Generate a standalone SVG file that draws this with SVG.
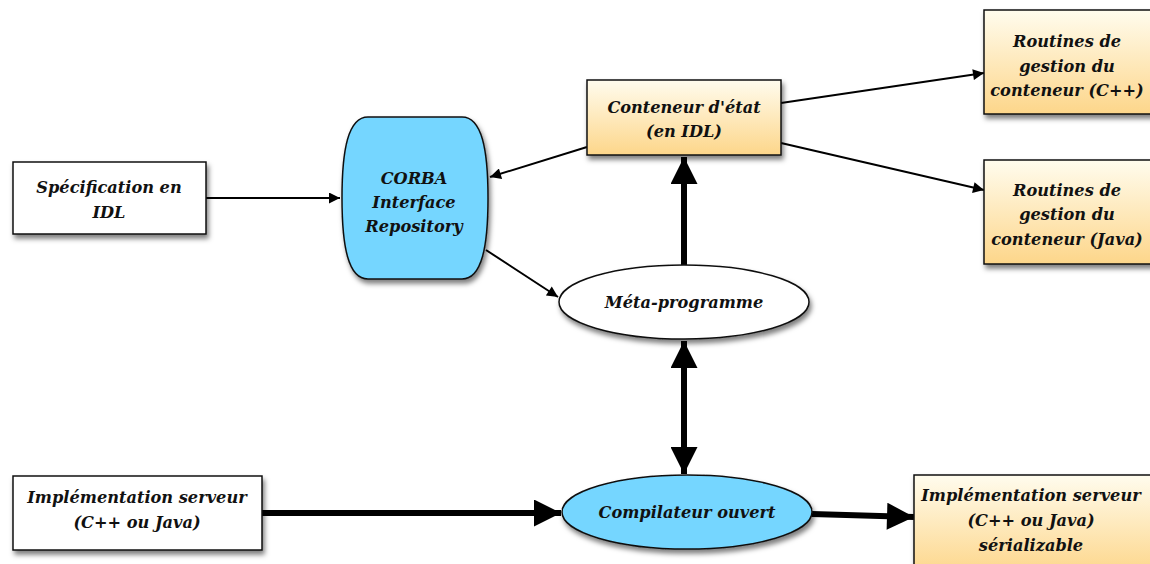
<svg xmlns="http://www.w3.org/2000/svg" width="1150" height="564" viewBox="0 0 1150 564">
<style>
.box{stroke:#111;stroke-width:1.5}
.t{font-family:"DejaVu Serif","Liberation Serif",serif;font-style:italic;font-weight:bold;font-size:16.2px;fill:#111;text-anchor:middle}
.thin{stroke:#000;stroke-width:2;fill:none}
.thick{stroke:#000;stroke-width:6;fill:none}
</style>
<defs>
<linearGradient id="og" x1="0" y1="0" x2="0" y2="1">
<stop offset="0" stop-color="#fffcee"/>
<stop offset="1" stop-color="#fdd68a"/>
</linearGradient>
<filter id="sh" x="-20%" y="-20%" width="150%" height="150%">
<feDropShadow dx="2" dy="4" stdDeviation="2.5" flood-color="#000" flood-opacity="0.5"/>
</filter>
<marker id="ah" viewBox="0 0 10 10" refX="10" refY="5" markerWidth="12" markerHeight="11" markerUnits="userSpaceOnUse" orient="auto">
<path d="M0,0 L10,5 L0,10 Z" fill="#000"/>
</marker>
<marker id="ahb" viewBox="0 0 10 10" refX="10" refY="5" markerWidth="5" markerHeight="4.5" orient="auto-start-reverse">
<path d="M0,0 L10,5 L0,10 Z" fill="#000"/>
</marker>
</defs>
<g id="connectors">
<line class="thin" x1="206" y1="198" x2="340" y2="198" marker-end="url(#ah)"/>
<line class="thin" x1="587" y1="147" x2="490" y2="177" marker-end="url(#ah)"/>
<line class="thin" x1="486" y1="250" x2="558" y2="297" marker-end="url(#ah)"/>
<line class="thin" x1="781" y1="103" x2="984" y2="73" marker-end="url(#ah)"/>
<line class="thin" x1="781" y1="143" x2="984" y2="190" marker-end="url(#ah)"/>
<line class="thick" x1="684" y1="265" x2="684" y2="157" marker-end="url(#ahb)"/>
<line class="thick" x1="684" y1="341" x2="684" y2="474" marker-end="url(#ahb)" marker-start="url(#ahb)"/>
<line class="thick" x1="262" y1="513" x2="561" y2="513" marker-end="url(#ahb)"/>
<line class="thick" x1="812" y1="514" x2="914" y2="517" marker-end="url(#ahb)"/>
</g>
<g id="spec">
<rect class="box" x="13" y="162" width="193" height="72" fill="#fff" filter="url(#sh)"/>
<text class="t" x="109" y="193">Spécification en</text>
<text class="t" x="109" y="218">IDL</text>
</g>
<g id="corba">
<path class="box" d="M368,117 L462,117 C482,117 488,150 488,198 C488,246 482,279 462,279 L368,279 C348,279 342,246 342,198 C342,150 348,117 368,117 Z" fill="#75d6ff" filter="url(#sh)"/>
<text class="t" x="414" y="184">CORBA</text>
<text class="t" x="414" y="208">Interface</text>
<text class="t" x="414" y="232">Repository</text>
</g>
<g id="conteneur">
<rect class="box" x="587" y="80" width="194" height="75" fill="url(#og)" filter="url(#sh)"/>
<text class="t" x="684" y="113">Conteneur d'état</text>
<text class="t" x="684" y="137">(en IDL)</text>
</g>
<g id="routines-cpp">
<rect class="box" x="984" y="10" width="170" height="104" fill="url(#og)" filter="url(#sh)"/>
<text class="t" x="1067" y="47">Routines de</text>
<text class="t" x="1067" y="72">gestion du</text>
<text class="t" x="1067" y="96">conteneur (C++)</text>
</g>
<g id="routines-java">
<rect class="box" x="984" y="160" width="170" height="104" fill="url(#og)" filter="url(#sh)"/>
<text class="t" x="1067" y="196">Routines de</text>
<text class="t" x="1067" y="220">gestion du</text>
<text class="t" x="1067" y="245">conteneur (Java)</text>
</g>
<g id="meta">
<ellipse class="box" cx="684" cy="302" rx="125" ry="37" fill="#fff" filter="url(#sh)"/>
<text class="t" x="684" y="308">Méta-programme</text>
</g>
<g id="compilateur">
<ellipse class="box" cx="687" cy="512" rx="125" ry="37" fill="#75d6ff" filter="url(#sh)"/>
<text class="t" x="687" y="518">Compilateur ouvert</text>
</g>
<g id="impl">
<rect class="box" x="13" y="476" width="249" height="74" fill="#fff" filter="url(#sh)"/>
<text class="t" x="137" y="503">Implémentation serveur</text>
<text class="t" x="137" y="528">(C++ ou Java)</text>
</g>
<g id="impl-serial">
<rect class="box" x="914" y="475" width="240" height="100" fill="url(#og)" filter="url(#sh)"/>
<text class="t" x="1031" y="501">Implémentation serveur</text>
<text class="t" x="1031" y="526">(C++ ou Java)</text>
<text class="t" x="1031" y="551">sérializable</text>
</g>
</svg>
